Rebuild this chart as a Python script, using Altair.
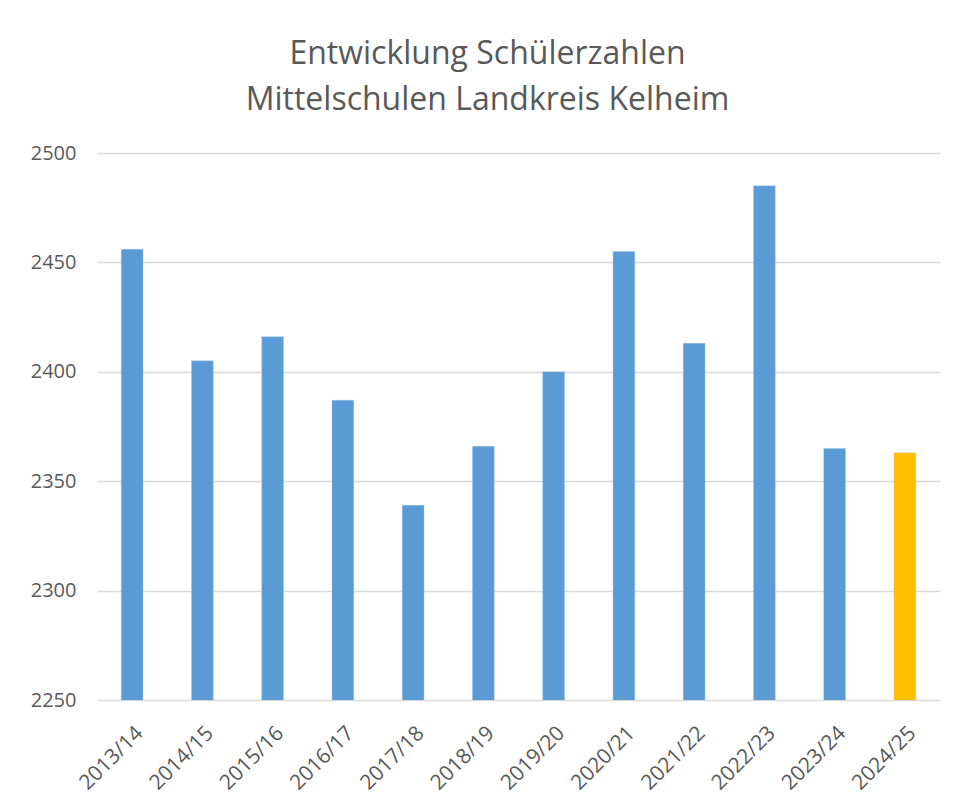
import altair as alt
import pandas as pd

schuljahre = ["2013/14", "2014/15", "2015/16", "2016/17", "2017/18", "2018/19",
              "2019/20", "2020/21", "2021/22", "2022/23", "2023/24", "2024/25"]
schueler = [2456, 2405, 2416, 2387, 2339, 2366, 2400, 2455, 2413, 2485, 2365, 2363]
aktuelles_jahr = "2024/25"
y_ticks = [2250, 2300, 2350, 2400, 2450, 2500]
title_lines = ["Entwicklung Schülerzahlen", "Mittelschulen Landkreis Kelheim"]

df = pd.DataFrame({"Schuljahr": schuljahre, "Schüler": schueler})

FONT = "Open Sans"
TXT = "#595959"
GRID = "#d9d9d9"

bars = alt.Chart(df).mark_bar(clip=True, stroke="#9dc3e6", strokeWidth=0.6, strokeOpacity=0.6).encode(
    x=alt.X("Schuljahr:N", sort=schuljahre, title=None,
            scale=alt.Scale(paddingInner=0.69, paddingOuter=0.345),
            axis=alt.Axis(labelAngle=-45, labelFontSize=21, labelColor=TXT, labelFont=FONT,
                          domain=False, ticks=False, labelPadding=22)),
    y=alt.Y("Schüler:Q", title=None,
            scale=alt.Scale(domain=[2250, 2500], zero=False, nice=False),
            axis=alt.Axis(values=y_ticks, format="d", labelFontSize=20, labelColor=TXT,
                          labelFont=FONT, domain=False, ticks=False, labelPadding=21,
                          grid=True, gridColor=GRID, gridWidth=1.5)),
    color=alt.condition(alt.datum.Schuljahr == aktuelles_jahr,
                        alt.value("#ffc000"), alt.value("#5b9bd5")),
)

chart = bars.properties(
    width=843,
    height=547,
    title=alt.TitleParams(text=title_lines, fontSize=32, font=FONT, fontWeight="normal",
                          color=TXT, lineHeight=46, offset=26, dx=-31, anchor="middle"),
    autosize=alt.AutoSizeParams(type="none"),
    padding={"left": 89, "top": 145, "right": 9, "bottom": 100},
).configure(background="white").configure_view(stroke=None)

chart.save("out.html", embed_options={"renderer": "svg", "actions": False})
